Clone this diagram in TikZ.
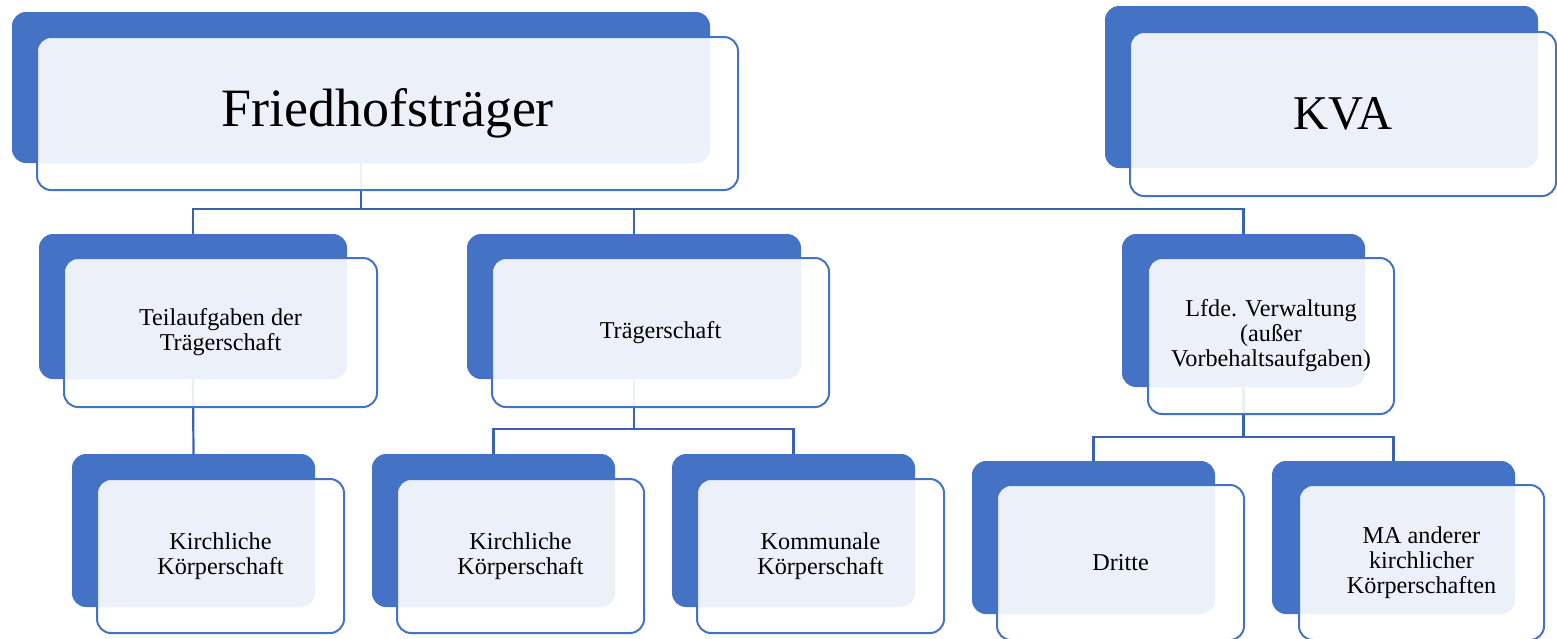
\documentclass[tikz,border=0pt]{standalone}
\usepackage{fontspec}
\setmainfont{Liberation Serif}
\definecolor{boxblue}{RGB}{68,114,196}
\definecolor{connblue}{RGB}{59,98,173}
\tikzset{
  backbox/.style={fill=boxblue, rounded corners=14pt, inner sep=0pt, outer sep=0pt},
  frontbox/.style={fill=white, fill opacity=0.9, text opacity=1, draw=boxblue, draw opacity=1,
    line width=2pt, rounded corners=14pt, inner sep=0pt, outer sep=0pt, align=center,
    font=\fontsize{24.2}{25}\selectfont},
  conn/.style={draw=connblue, line width=2.2pt},
}
\begin{document}
\begin{tikzpicture}[x=1pt,y=-1pt]
\useasboundingbox (0,0) rectangle (1557,638);
% back boxes
\node[backbox, minimum width=698pt, minimum height=151pt] (fB) at (361,87.5) {};
\node[backbox, minimum width=433pt, minimum height=162pt] (kB) at (1321.5,87) {};
\node[backbox, minimum width=308pt, minimum height=145pt] (tB) at (193,306.5) {};
\node[backbox, minimum width=334pt, minimum height=145pt] (sB) at (634,306.5) {};
\node[backbox, minimum width=243pt, minimum height=153pt] (lB) at (1243.5,310.5) {};
\node[backbox, minimum width=243pt, minimum height=153pt] (k1B) at (193.5,530.5) {};
\node[backbox, minimum width=243pt, minimum height=153pt] (k2B) at (493.5,530.5) {};
\node[backbox, minimum width=243pt, minimum height=153pt] (kmB) at (793.5,530.5) {};
\node[backbox, minimum width=243pt, minimum height=153pt] (dB) at (1093.5,537.5) {};
\node[backbox, minimum width=243pt, minimum height=153pt] (mB) at (1393.5,537.5) {};
% connectors
\draw[conn] (fB.south) -- ++(0,46) coordinate (j1);
\draw[conn] (tB.north) |- (j1) -| (lB.north);
\draw[conn] (sB.north) -- (sB.north |- j1);
\draw[conn] (tB.south) -- (k1B.north);
\draw[conn] (sB.south) -- ++(0,50) coordinate (j2);
\draw[conn] (k2B.north) |- (j2) -| (kmB.north);
\draw[conn] (lB.south) -- ++(0,50) coordinate (j3);
\draw[conn] (dB.north) |- (j3) -| (mB.north);
% front boxes
\node[frontbox, minimum width=701pt, minimum height=153pt, font=\fontsize{54}{60}\selectfont] (fF) at (387.5,113.5) {Friedhofsträger};
\node[frontbox, minimum width=426pt, minimum height=164pt, font=\fontsize{48.5}{54}\selectfont] (kF) at (1343,114) {KVA};
\node[frontbox, minimum width=313pt, minimum height=149pt] (tF) at (220.5,332.5) {Teilaufgaben der\\Trägerschaft};
\node[frontbox, minimum width=337pt, minimum height=149pt] (sF) at (660.5,332.5) {Trägerschaft};
\node[frontbox, minimum width=246pt, minimum height=156pt] (lF) at (1271,336) {Lfde. Verwaltung\\(außer\\Vorbehaltsaufgaben)};
\node[frontbox, minimum width=247pt, minimum height=154pt] (k1F) at (220.5,556) {Kirchliche\\Körperschaft};
\node[frontbox, minimum width=247pt, minimum height=154pt] (k2F) at (520.5,556) {Kirchliche\\Körperschaft};
\node[frontbox, minimum width=247pt, minimum height=154pt] (kmF) at (820.5,556) {Kommunale\\Körperschaft};
\node[frontbox, minimum width=247pt, minimum height=155pt] (dF) at (1120.5,562.5) {Dritte};
\node[frontbox, minimum width=245pt, minimum height=155pt] (mF) at (1421.5,562.5) {MA anderer\\kirchlicher\\Körperschaften};
\end{tikzpicture}
\end{document}
